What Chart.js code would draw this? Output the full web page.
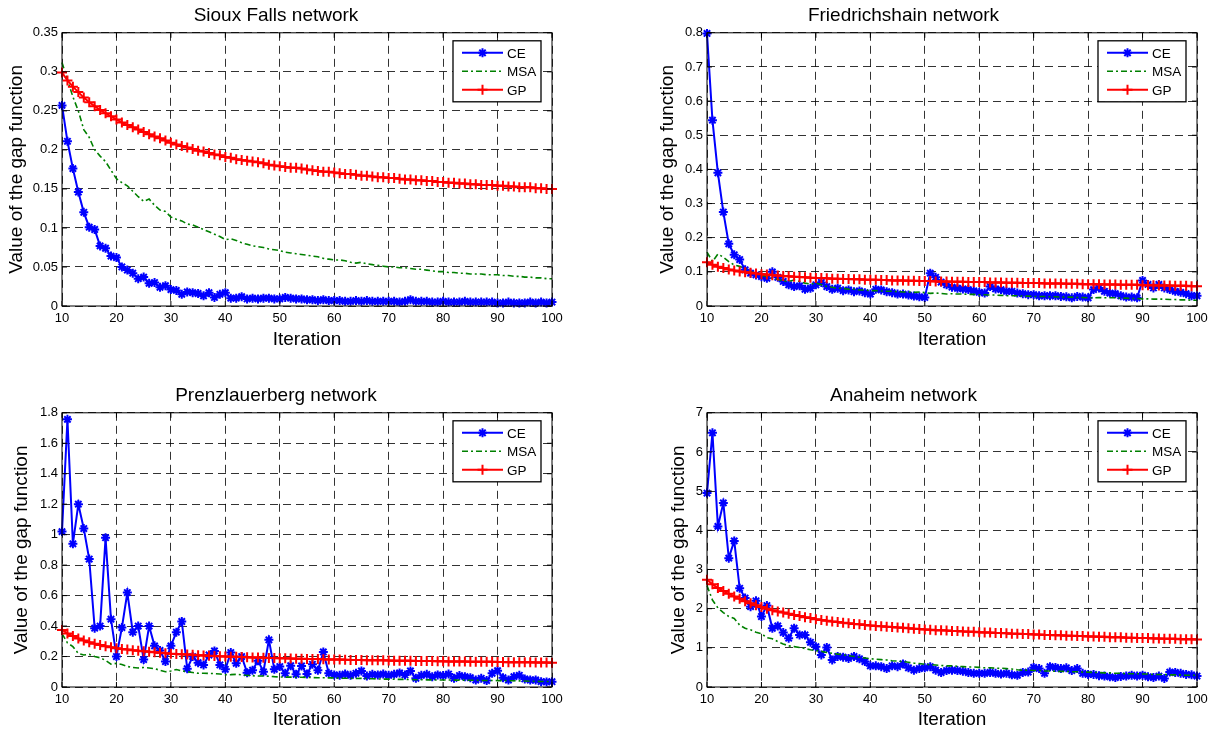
<!DOCTYPE html>
<html lang="en">
<head>
    <meta charset="UTF-8">
    <title>Gap function vs iteration</title>
    <script src="https://cdn.jsdelivr.net/npm/chart.js"></script>
    <style>
        body {
            margin: 0;
            background-color: #fff;
        }
        .page {
            position: relative;
            width: 1220px;
            height: 733px;
        }
        .page canvas {
            position: absolute;
        }
    </style>
</head>
<body>
    <div class="page">
        <canvas id="c1" width="610" height="366" style="left:0;top:0"></canvas>
        <canvas id="c2" width="610" height="366" style="left:610px;top:0"></canvas>
        <canvas id="c3" width="610" height="353" style="left:0;top:380px"></canvas>
        <canvas id="c4" width="610" height="353" style="left:610px;top:380px"></canvas>
    </div>

    <script>
        // iterations 10..100
        const iterations = [];
        for (let it = 10; it <= 100; it++) iterations.push(it);

        const seriesNames = ['CE', 'MSA', 'GP'];

        // Sioux Falls
        const sfCE = [
            0.257, 0.211, 0.176, 0.146, 0.120, 0.101, 0.098, 0.077, 0.074, 0.064,
            0.062, 0.050, 0.046, 0.042, 0.035, 0.037, 0.029, 0.030, 0.024, 0.026,
            0.021, 0.020, 0.015, 0.018, 0.017, 0.016, 0.013, 0.017, 0.011, 0.015,
            0.017, 0.010, 0.010, 0.012, 0.009, 0.010, 0.009, 0.010, 0.010, 0.009,
            0.009, 0.011, 0.010, 0.009, 0.009, 0.008, 0.008, 0.007, 0.008, 0.007,
            0.007, 0.007, 0.006, 0.006, 0.007, 0.006, 0.007, 0.006, 0.006, 0.006,
            0.006, 0.006, 0.005, 0.006, 0.008, 0.006, 0.006, 0.006, 0.005, 0.005,
            0.006, 0.005, 0.005, 0.005, 0.006, 0.005, 0.005, 0.005, 0.005, 0.005,
            0.004, 0.004, 0.005, 0.004, 0.004, 0.004, 0.005, 0.004, 0.005, 0.004,
            0.005
        ];
        const sfMSA = [
            0.312, 0.290, 0.268, 0.250, 0.226, 0.216, 0.200, 0.192, 0.185, 0.174,
            0.163, 0.158, 0.154, 0.147, 0.140, 0.134, 0.137, 0.129, 0.123, 0.121,
            0.114, 0.111, 0.109, 0.105, 0.104, 0.101, 0.098, 0.095, 0.092, 0.089,
            0.085, 0.086, 0.084, 0.081, 0.079, 0.077, 0.076, 0.075, 0.073, 0.072,
            0.071, 0.069, 0.068, 0.067, 0.066, 0.065, 0.064, 0.063, 0.061, 0.060,
            0.059, 0.059, 0.058, 0.056, 0.055, 0.056, 0.054, 0.053, 0.052, 0.051,
            0.050, 0.050, 0.049, 0.049, 0.048, 0.047, 0.047, 0.046, 0.045, 0.044,
            0.044, 0.043, 0.043, 0.042, 0.042, 0.041, 0.041, 0.041, 0.040, 0.040,
            0.040, 0.039, 0.039, 0.038, 0.038, 0.037, 0.037, 0.036, 0.036, 0.035,
            0.035
        ];
        const sfGP = [
            0.299, 0.289, 0.281, 0.274, 0.267, 0.261, 0.256, 0.251, 0.247, 0.243,
            0.239, 0.235, 0.232, 0.229, 0.226, 0.223, 0.220, 0.217, 0.215, 0.212,
            0.209, 0.207, 0.205, 0.203, 0.201, 0.199, 0.198, 0.196, 0.194, 0.193,
            0.191, 0.190, 0.188, 0.187, 0.186, 0.185, 0.184, 0.183, 0.181, 0.180,
            0.179, 0.178, 0.177, 0.177, 0.176, 0.175, 0.174, 0.173, 0.172, 0.172,
            0.171, 0.170, 0.169, 0.169, 0.168, 0.167, 0.167, 0.166, 0.165, 0.165,
            0.164, 0.164, 0.163, 0.162, 0.162, 0.161, 0.161, 0.160, 0.160, 0.159,
            0.159, 0.158, 0.158, 0.157, 0.157, 0.156, 0.156, 0.155, 0.155, 0.155,
            0.154, 0.154, 0.153, 0.153, 0.152, 0.152, 0.152, 0.151, 0.151, 0.150,
            0.150
        ];

        // Friedrichshain
        const frCE = [
            0.798, 0.544, 0.390, 0.275, 0.182, 0.150, 0.136, 0.106, 0.096, 0.091,
            0.086, 0.081, 0.100, 0.084, 0.072, 0.062, 0.057, 0.059, 0.049, 0.052,
            0.062, 0.069, 0.057, 0.049, 0.052, 0.045, 0.047, 0.042, 0.044, 0.039,
            0.035, 0.049, 0.047, 0.042, 0.039, 0.035, 0.035, 0.032, 0.029, 0.027,
            0.025, 0.096, 0.084, 0.070, 0.062, 0.055, 0.052, 0.050, 0.048, 0.044,
            0.040, 0.038, 0.057, 0.050, 0.048, 0.043, 0.043, 0.038, 0.036, 0.033,
            0.033, 0.030, 0.030, 0.030, 0.030, 0.028, 0.027, 0.024, 0.028, 0.026,
            0.024, 0.048, 0.053, 0.043, 0.038, 0.036, 0.030, 0.026, 0.026, 0.024,
            0.075, 0.063, 0.053, 0.063, 0.053, 0.048, 0.043, 0.040, 0.036, 0.030,
            0.030
        ];
        const frMSA = [
            0.158, 0.130, 0.152, 0.143, 0.130, 0.120, 0.116, 0.110, 0.100, 0.096,
            0.090, 0.086, 0.081, 0.078, 0.073, 0.072, 0.076, 0.072, 0.067, 0.064,
            0.067, 0.062, 0.057, 0.055, 0.052, 0.052, 0.049, 0.049, 0.047, 0.047,
            0.045, 0.045, 0.044, 0.043, 0.043, 0.042, 0.041, 0.041, 0.040, 0.041,
            0.039, 0.037, 0.038, 0.037, 0.035, 0.036, 0.035, 0.035, 0.034, 0.034,
            0.033, 0.033, 0.032, 0.032, 0.031, 0.030, 0.030, 0.030, 0.029, 0.029,
            0.028, 0.028, 0.028, 0.027, 0.027, 0.026, 0.026, 0.026, 0.025, 0.025,
            0.024, 0.024, 0.025, 0.024, 0.024, 0.024, 0.023, 0.023, 0.022, 0.022,
            0.021, 0.021, 0.020, 0.020, 0.020, 0.019, 0.019, 0.018, 0.018, 0.017,
            0.017
        ];
        const frGP = [
            0.128, 0.121, 0.115, 0.111, 0.107, 0.104, 0.101, 0.099, 0.097, 0.095,
            0.093, 0.092, 0.090, 0.089, 0.088, 0.087, 0.086, 0.085, 0.084, 0.083,
            0.082, 0.082, 0.081, 0.080, 0.080, 0.079, 0.079, 0.078, 0.078, 0.077,
            0.077, 0.077, 0.076, 0.076, 0.075, 0.075, 0.075, 0.074, 0.074, 0.073,
            0.073, 0.073, 0.072, 0.072, 0.072, 0.071, 0.071, 0.071, 0.070, 0.070,
            0.070, 0.070, 0.069, 0.069, 0.069, 0.068, 0.068, 0.068, 0.067, 0.067,
            0.067, 0.067, 0.066, 0.066, 0.066, 0.066, 0.065, 0.065, 0.065, 0.064,
            0.064, 0.064, 0.064, 0.063, 0.063, 0.063, 0.062, 0.062, 0.062, 0.062,
            0.061, 0.061, 0.061, 0.060, 0.060, 0.060, 0.059, 0.059, 0.059, 0.058,
            0.058
        ];

        // Prenzlauerberg
        const prCE = [
            1.02, 1.757, 0.94, 1.20, 1.04, 0.84, 0.386, 0.40, 0.98, 0.445,
            0.20, 0.39, 0.62, 0.36, 0.40, 0.18, 0.40, 0.27, 0.24, 0.167,
            0.27, 0.36, 0.43, 0.12, 0.20, 0.16, 0.145, 0.21, 0.237, 0.145,
            0.116, 0.226, 0.156, 0.20, 0.094, 0.11, 0.173, 0.10, 0.31, 0.116,
            0.134, 0.09, 0.14, 0.083, 0.138, 0.085, 0.149, 0.11, 0.23, 0.09,
            0.079, 0.077, 0.085, 0.077, 0.09, 0.105, 0.072, 0.083, 0.079, 0.085,
            0.077, 0.083, 0.092, 0.079, 0.105, 0.057, 0.077, 0.083, 0.068, 0.079,
            0.075, 0.085, 0.057, 0.075, 0.068, 0.061, 0.046, 0.057, 0.042, 0.09,
            0.107, 0.061, 0.046, 0.068, 0.077, 0.053, 0.046, 0.046, 0.035, 0.033,
            0.035
        ];
        const prMSA = [
            0.350, 0.290, 0.265, 0.220, 0.210, 0.215, 0.200, 0.192, 0.175, 0.150,
            0.155, 0.148, 0.135, 0.128, 0.125, 0.128, 0.125, 0.120, 0.110, 0.100,
            0.105, 0.115, 0.106, 0.100, 0.095, 0.090, 0.090, 0.089, 0.088, 0.085,
            0.080, 0.081, 0.083, 0.080, 0.076, 0.074, 0.072, 0.072, 0.071, 0.068,
            0.066, 0.065, 0.065, 0.064, 0.064, 0.063, 0.062, 0.061, 0.061, 0.060,
            0.060, 0.058, 0.057, 0.057, 0.056, 0.057, 0.055, 0.054, 0.053, 0.052,
            0.052, 0.051, 0.050, 0.050, 0.049, 0.048, 0.048, 0.047, 0.047, 0.046,
            0.046, 0.046, 0.045, 0.045, 0.045, 0.044, 0.044, 0.043, 0.043, 0.043,
            0.042, 0.042, 0.041, 0.041, 0.040, 0.039, 0.038, 0.037, 0.036, 0.036,
            0.035
        ];
        const prGP = [
            0.375, 0.352, 0.334, 0.318, 0.305, 0.294, 0.284, 0.276, 0.268, 0.261,
            0.255, 0.250, 0.246, 0.242, 0.238, 0.234, 0.231, 0.228, 0.225, 0.222,
            0.219, 0.217, 0.215, 0.213, 0.211, 0.209, 0.207, 0.205, 0.204, 0.202,
            0.201, 0.199, 0.198, 0.197, 0.195, 0.194, 0.193, 0.192, 0.191, 0.190,
            0.189, 0.188, 0.187, 0.186, 0.185, 0.184, 0.183, 0.183, 0.182, 0.181,
            0.180, 0.180, 0.179, 0.178, 0.178, 0.177, 0.176, 0.176, 0.175, 0.175,
            0.174, 0.173, 0.173, 0.172, 0.172, 0.171, 0.171, 0.170, 0.170, 0.169,
            0.169, 0.168, 0.168, 0.167, 0.167, 0.166, 0.166, 0.166, 0.165, 0.165,
            0.164, 0.164, 0.163, 0.163, 0.163, 0.162, 0.162, 0.161, 0.161, 0.161,
            0.160
        ];

        // Anaheim
        const anCE = [
            4.95, 6.49, 4.10, 4.70, 3.29, 3.73, 2.52, 2.27, 2.05, 2.20,
            1.80, 2.08, 1.50, 1.56, 1.39, 1.245, 1.50, 1.33, 1.33, 1.14,
            1.03, 0.82, 1.01, 0.69, 0.78, 0.76, 0.73, 0.78, 0.72, 0.65,
            0.54, 0.54, 0.52, 0.47, 0.54, 0.52, 0.59, 0.49, 0.43, 0.47,
            0.49, 0.52, 0.43, 0.37, 0.42, 0.43, 0.42, 0.40, 0.37, 0.35,
            0.35, 0.35, 0.37, 0.35, 0.33, 0.35, 0.31, 0.30, 0.37, 0.38,
            0.50, 0.47, 0.35, 0.52, 0.50, 0.47, 0.49, 0.42, 0.47, 0.35,
            0.32, 0.32, 0.29, 0.28, 0.26, 0.24, 0.27, 0.28, 0.30, 0.28,
            0.30, 0.26, 0.24, 0.28, 0.22, 0.38, 0.37, 0.35, 0.32, 0.31,
            0.28
        ];
        const anMSA = [
            2.59, 2.22, 2.02, 1.90, 1.80, 1.75, 1.58, 1.50, 1.46, 1.40,
            1.36, 1.26, 1.23, 1.16, 1.10, 1.05, 1.03, 1.01, 0.98, 0.95,
            0.93, 0.91, 0.88, 0.86, 0.84, 0.82, 0.80, 0.78, 0.76, 0.74,
            0.72, 0.71, 0.70, 0.69, 0.67, 0.66, 0.65, 0.63, 0.61, 0.60,
            0.58, 0.57, 0.56, 0.55, 0.54, 0.54, 0.53, 0.52, 0.51, 0.51,
            0.50, 0.49, 0.49, 0.48, 0.48, 0.47, 0.46, 0.44, 0.43, 0.43,
            0.42, 0.42, 0.41, 0.41, 0.40, 0.40, 0.40, 0.39, 0.39, 0.38,
            0.38, 0.37, 0.37, 0.36, 0.36, 0.35, 0.35, 0.34, 0.34, 0.34,
            0.33, 0.33, 0.32, 0.32, 0.32, 0.31, 0.31, 0.31, 0.30, 0.30,
            0.30
        ];
        const anGP = [
            2.74, 2.62, 2.53, 2.45, 2.38, 2.31, 2.25, 2.19, 2.14, 2.09,
            2.04, 2.00, 1.96, 1.93, 1.90, 1.87, 1.84, 1.81, 1.78, 1.76,
            1.73, 1.71, 1.69, 1.67, 1.66, 1.64, 1.63, 1.61, 1.60, 1.58,
            1.57, 1.56, 1.55, 1.54, 1.53, 1.52, 1.51, 1.50, 1.49, 1.48,
            1.47, 1.46, 1.45, 1.45, 1.44, 1.43, 1.43, 1.42, 1.41, 1.41,
            1.40, 1.39, 1.39, 1.38, 1.38, 1.37, 1.36, 1.36, 1.35, 1.35,
            1.34, 1.34, 1.33, 1.33, 1.32, 1.32, 1.31, 1.31, 1.30, 1.30,
            1.29, 1.29, 1.28, 1.28, 1.27, 1.27, 1.27, 1.26, 1.26, 1.25,
            1.25, 1.25, 1.24, 1.24, 1.23, 1.23, 1.23, 1.22, 1.22, 1.22,
            1.21
        ];

        const FONT = "'Liberation Sans', Arial, sans-serif";

        function drawMarker(ctx, style, x, y, r) {
            ctx.beginPath();
            ctx.moveTo(x - r, y); ctx.lineTo(x + r, y);
            ctx.moveTo(x, y - r); ctx.lineTo(x, y + r);
            if (style === 'star') {
                const d = r * 0.7071;
                ctx.moveTo(x - d, y - d); ctx.lineTo(x + d, y + d);
                ctx.moveTo(x - d, y + d); ctx.lineTo(x + d, y - d);
            }
            ctx.stroke();
        }

        // matlab style box, inward ticks and legend
        const matlabFrame = {
            id: 'matlabFrame',
            afterDatasetsDraw(chart) {
                const ctx = chart.ctx;
                const a = chart.chartArea;
                ctx.save();
                ctx.strokeStyle = '#000';
                ctx.lineWidth = 1;
                ctx.setLineDash([]);
                ctx.strokeRect(a.left, a.top, a.right - a.left, a.bottom - a.top);

                const xs = chart.scales.x, ys = chart.scales.y;
                ctx.beginPath();
                xs.ticks.forEach(t => {
                    const px = xs.getPixelForValue(t.value);
                    ctx.moveTo(px, a.bottom); ctx.lineTo(px, a.bottom - 5);
                    ctx.moveTo(px, a.top); ctx.lineTo(px, a.top + 5);
                });
                ys.ticks.forEach(t => {
                    const py = ys.getPixelForValue(t.value);
                    ctx.moveTo(a.left, py); ctx.lineTo(a.left + 5, py);
                    ctx.moveTo(a.right, py); ctx.lineTo(a.right - 5, py);
                });
                ctx.stroke();

                // legend box
                const w = 88, h = 61;
                const x0 = a.right - 11 - w, y0 = a.top + 8;
                ctx.fillStyle = '#fff';
                ctx.fillRect(x0, y0, w, h);
                ctx.lineWidth = 1.3;
                ctx.strokeRect(x0, y0, w, h);
                ctx.font = '13.5px ' + FONT;
                ctx.textBaseline = 'middle';
                chart.data.datasets.forEach((ds, i) => {
                    const y = y0 + 12 + i * 18.5;
                    ctx.strokeStyle = ds.borderColor;
                    ctx.lineWidth = ds.borderWidth;
                    ctx.setLineDash(ds.borderDash || []);
                    ctx.beginPath();
                    ctx.moveTo(x0 + 9, y); ctx.lineTo(x0 + 50, y);
                    ctx.stroke();
                    ctx.setLineDash([]);
                    if (ds.pointRadius > 0) {
                        ctx.lineWidth = ds.pointBorderWidth;
                        drawMarker(ctx, ds.pointStyle, x0 + 29.5, y, ds.pointRadius);
                    }
                    ctx.fillStyle = '#000';
                    ctx.fillText(ds.label, x0 + 54, y + 1);
                });
                ctx.restore();
            }
        };

        function toPoints(values) {
            return iterations.map((it, i) => ({ x: it, y: values[i] }));
        }

        function makeChart(cfg) {
            const styles = [
                { color: '#0000ff', width: 2, dash: [], marker: 'star', r: 4.5, bw: 2, order: 3 },
                { color: '#008000', width: 1.6, dash: [6, 3, 2, 3], marker: 'star', r: 0, bw: 0, order: 2 },
                { color: '#ff0000', width: 2, dash: [], marker: 'cross', r: 5, bw: 2, order: 1 }
            ];
            const datasets = cfg.series.map((vals, i) => ({
                label: seriesNames[i],
                data: toPoints(vals),
                borderColor: styles[i].color,
                backgroundColor: styles[i].color,
                borderWidth: styles[i].width,
                borderDash: styles[i].dash,
                pointStyle: styles[i].marker,
                pointRadius: styles[i].r,
                pointBorderWidth: styles[i].bw,
                pointBorderColor: styles[i].color,
                order: styles[i].order,
                tension: 0,
                clip: false
            }));

            new Chart(document.getElementById(cfg.id), {
                type: 'line',
                data: { datasets },
                plugins: [matlabFrame],
                options: {
                    responsive: false,
                    animation: false,
                    events: [],
                    layout: { padding: { left: 0, right: cfg.padRight, top: 0, bottom: 0 } },
                    plugins: {
                        legend: { display: false },
                        tooltip: { enabled: false },
                        title: {
                            display: true,
                            text: cfg.title,
                            color: '#000',
                            font: { family: FONT, size: 19, weight: 'normal' },
                            padding: { top: 4, bottom: 6 }
                        }
                    },
                    scales: {
                        x: {
                            type: 'linear',
                            min: 10,
                            max: 100,
                            afterFit: s => { s.height = cfg.xHeight; },
                            ticks: {
                                stepSize: 10,
                                padding: 5,
                                color: '#000',
                                font: { family: FONT, size: 13 }
                            },
                            grid: { color: 'rgba(0,0,0,0.8)', lineWidth: 1, drawTicks: false },
                            border: { display: false, dash: [8, 5] },
                            title: {
                                display: true,
                                text: 'Iteration',
                                color: '#000',
                                font: { family: FONT, size: 19 },
                                padding: { top: 0, bottom: cfg.xTitlePad }
                            }
                        },
                        y: {
                            min: 0,
                            max: cfg.yMax,
                            afterFit: s => { s.width = cfg.yWidth; },
                            ticks: {
                                stepSize: cfg.yStep,
                                padding: 4,
                                color: '#000',
                                font: { family: FONT, size: 13 },
                                callback: v => String(Math.round(v * 1000) / 1000)
                            },
                            grid: { color: 'rgba(0,0,0,0.8)', lineWidth: 1, drawTicks: false },
                            border: { display: false, dash: [8, 5] },
                            title: {
                                display: true,
                                text: 'Value of the gap function',
                                color: '#000',
                                font: { family: FONT, size: 19 },
                                padding: { top: cfg.yTitlePad, bottom: 0 }
                            }
                        }
                    }
                }
            });
        }

        makeChart({ id: 'c1', title: 'Sioux Falls network', series: [sfCE, sfMSA, sfGP],
            yMax: 0.35, yStep: 0.05, yWidth: 62, padRight: 58, xHeight: 60, xTitlePad: 15, yTitlePad: 5 });
        makeChart({ id: 'c2', title: 'Friedrichshain network', series: [frCE, frMSA, frGP],
            yMax: 0.8, yStep: 0.1, yWidth: 97, padRight: 23, xHeight: 60, xTitlePad: 15, yTitlePad: 46 });
        makeChart({ id: 'c3', title: 'Prenzlauerberg network', series: [prCE, prMSA, prGP],
            yMax: 1.8, yStep: 0.2, yWidth: 62, padRight: 58, xHeight: 46, xTitlePad: 2, yTitlePad: 10 });
        makeChart({ id: 'c4', title: 'Anaheim network', series: [anCE, anMSA, anGP],
            yMax: 7, yStep: 1, yWidth: 97, padRight: 23, xHeight: 46, xTitlePad: 2, yTitlePad: 57 });
    </script>
</body>
</html>
